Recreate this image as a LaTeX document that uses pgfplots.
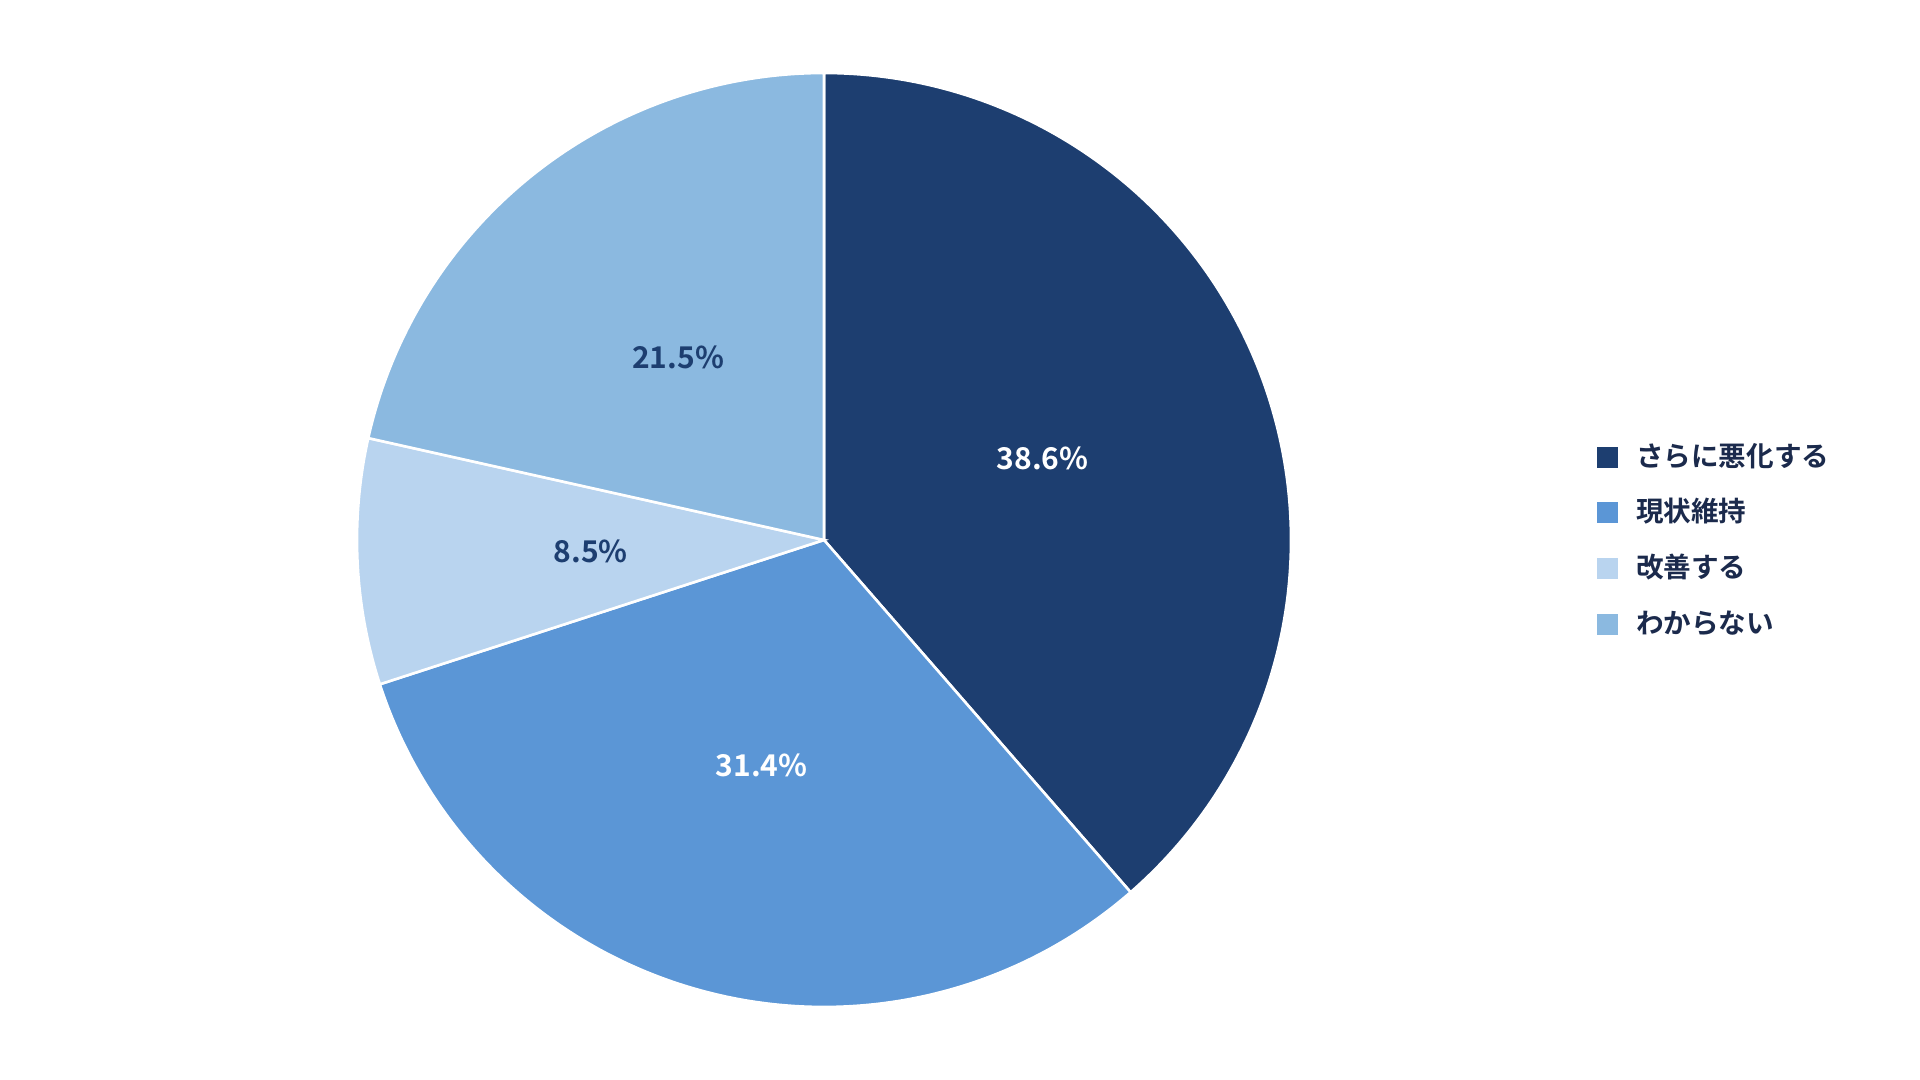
\documentclass[border=0pt]{standalone}
\usepackage{pgfplots}
\pgfplotsset{compat=1.18}
\usepackage{pgfplotstable}
\usepackage{fontspec}
\setmainfont{Noto Sans CJK JP Bold}
\definecolor{c1}{HTML}{1D3E70}
\definecolor{c2}{HTML}{5B96D6}
\definecolor{c3}{HTML}{B9D4EF}
\definecolor{c4}{HTML}{8BB9E0}
\definecolor{legtext}{HTML}{1B2A4C}
\pgfplotstableread{
pct
38.6
31.4
8.5
21.5
}\piedata
\begin{document}
\begin{tikzpicture}
\pgfplotstablegetelem{0}{pct}\of\piedata \let\pa\pgfplotsretval
\pgfplotstablegetelem{1}{pct}\of\piedata \let\pb\pgfplotsretval
\pgfplotstablegetelem{2}{pct}\of\piedata \let\pc\pgfplotsretval
\pgfplotstablegetelem{3}{pct}\of\piedata \let\pd\pgfplotsretval
\pgfmathsetmacro\aA{90}
\pgfmathsetmacro\aB{\aA-3.6*\pa}
\pgfmathsetmacro\aC{\aB-3.6*\pb}
\pgfmathsetmacro\aD{\aC-3.6*\pc}
\pgfmathsetmacro\aE{\aD-3.6*\pd}
\pgfmathsetmacro\mA{(\aA+\aB)/2}
\pgfmathsetmacro\mB{(\aB+\aC)/2}
\pgfmathsetmacro\mC{(\aC+\aD)/2}
\pgfmathsetmacro\mD{(\aD+\aE)/2}
\def\cx{824}\def\cy{540}\def\R{467}\def\rl{233.5}
\pgfkeys{/pgf/number format/assume math mode=true}
\begin{axis}[
  scale only axis, width=960pt, height=540pt,
  xmin=0, xmax=1920, ymin=0, ymax=1080,
  hide axis, clip=false,
  legend image code/.code={\fill[#1,draw=none] (0pt,-4.1pt) rectangle (10.5pt,6.4pt);},
  legend style={draw=none, fill=none, inner sep=0pt, outer sep=0pt,
    anchor=west, at={(axis cs:1597,537)},
    font=\fontsize{13.8pt}{16pt}\selectfont, text=legtext,
    row sep=14.1pt,
    nodes={inner sep=0pt, text height=10.2pt, text depth=3.5pt},
    /tikz/every odd column/.append style={column sep=9pt}},
  legend cell align=left,
]
\addplot[fill=c1, draw=white, line width=1.3pt, domain=\aB:\aA, samples=150, variable=\t]
  ({\cx+\R*cos(\t)},{\cy+\R*sin(\t)}) -- (axis cs:\cx,\cy) -- cycle;
\addlegendentry{さらに悪化する}
\addplot[fill=c2, draw=white, line width=1.3pt, domain=\aC:\aB, samples=150, variable=\t]
  ({\cx+\R*cos(\t)},{\cy+\R*sin(\t)}) -- (axis cs:\cx,\cy) -- cycle;
\addlegendentry{現状維持}
\addplot[fill=c3, draw=white, line width=1.3pt, domain=\aD:\aC, samples=60, variable=\t]
  ({\cx+\R*cos(\t)},{\cy+\R*sin(\t)}) -- (axis cs:\cx,\cy) -- cycle;
\addlegendentry{改善する}
\addplot[fill=c4, draw=white, line width=1.3pt, domain=\aE:\aD, samples=120, variable=\t]
  ({\cx+\R*cos(\t)},{\cy+\R*sin(\t)}) -- (axis cs:\cx,\cy) -- cycle;
\addlegendentry{わからない}
\node[font=\fontsize{15pt}{18pt}\selectfont, text=white] at (axis cs:{\cx+\rl*cos(\mA)},{\cy+\rl*sin(\mA)}) {\pgfmathprintnumber[fixed,fixed zerofill,precision=1]{\pa}\%};
\node[font=\fontsize{15pt}{18pt}\selectfont, text=white] at (axis cs:{\cx+\rl*cos(\mB)},{\cy+\rl*sin(\mB)}) {\pgfmathprintnumber[fixed,fixed zerofill,precision=1]{\pb}\%};
\node[font=\fontsize{15pt}{18pt}\selectfont, text=c1] at (axis cs:{\cx+\rl*cos(\mC)},{\cy+\rl*sin(\mC)}) {\pgfmathprintnumber[fixed,fixed zerofill,precision=1]{\pc}\%};
\node[font=\fontsize{15pt}{18pt}\selectfont, text=c1] at (axis cs:{\cx+\rl*cos(\mD)},{\cy+\rl*sin(\mD)}) {\pgfmathprintnumber[fixed,fixed zerofill,precision=1]{\pd}\%};
\end{axis}
\pgfresetboundingbox
\path (0,0) rectangle (960pt,540pt);
\end{tikzpicture}
\end{document}
